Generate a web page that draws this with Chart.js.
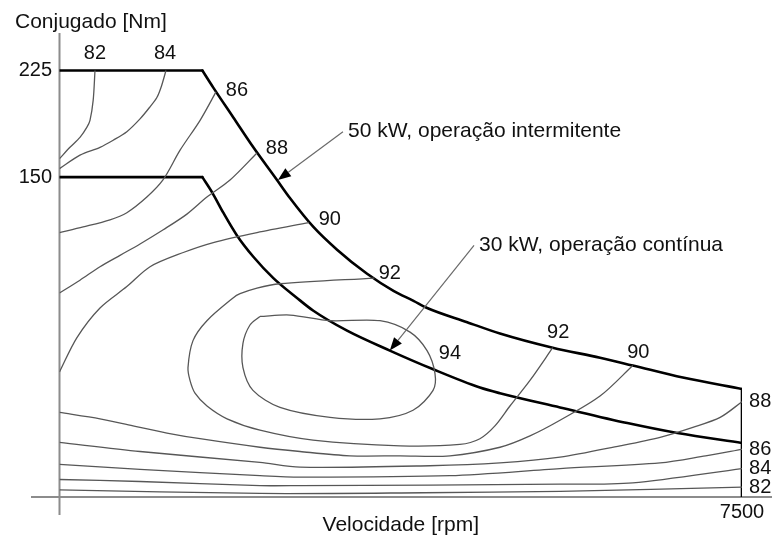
<!DOCTYPE html>
<html lang="pt-BR">
<head>
<meta charset="utf-8">
<title>Mapa de rendimento do motor</title>
<script src="https://cdn.jsdelivr.net/npm/chart.js@4.4.1/dist/chart.umd.min.js"></script>
<style>
  html, body { margin: 0; padding: 0; background: #fff; }
  #wrap { width: 774px; height: 538px; position: relative; }
</style>
</head>
<body>
<div id="wrap"><canvas id="mapa"></canvas></div>
<script>
// Envoltórias de conjugado máximo, pontos [rpm, Nm]
const envelope50kW = [[0, 225], [1570, 225], [1690, 213], [1910, 192], [2130, 171], [2390, 148], [2530, 135.5],
  [2790, 115], [3050, 99], [3380, 82], [3670, 70], [3890, 63], [4040, 58], [4480, 48], [4840, 40], [5420, 30],
  [5940, 23], [6300, 17.5], [6850, 9], [7500, 1], [7500, -75]];
const envelope30kW = [[0, 150], [1570, 150], [1680, 139], [1800, 125], [1950, 109], [2130, 94], [2350, 79],
  [2610, 65], [2790, 56], [3160, 42], [3630, 28], [4100, 15], [4620, 2], [4840, -2], [5500, -12], [6240, -23],
  [6790, -30], [7500, -37]];

// Curvas de rendimento constante (%), pontos [rpm, Nm]
const eff82Upper = [[390, 225], [370, 204], [335, 190], [300, 185], [225, 178], [115, 171], [0, 163]];
const eff84Upper = [[1170, 225], [1120, 214], [1070, 206], [995, 199.5], [885, 191], [740, 182], [590, 176],
  [445, 171], [225, 165.5], [0, 156]];
const eff86Upper = [[1720, 210], [1545, 190], [1325, 169], [1137, 148], [960, 136], [740, 125], [555, 120],
  [260, 115], [0, 111]];
const eff88Upper = [[2170, 167], [1874, 148], [1620, 136], [1400, 124], [1140, 113], [885, 103], [665, 95],
  [445, 87], [225, 77.5], [0, 68.5]];
const eff90Upper = [[2740, 118], [2170, 111], [1690, 104], [1360, 97], [995, 87], [740, 73], [445, 58],
  [190, 37], [0, 13]];
const eff92 = [[3460, 79], [2423, 75], [2170, 72], [1984, 68], [1907, 65], [1620, 49], [1467, 35], [1412, 16],
  [1434, 7], [1489, -2], [1621, -11], [1841, -20], [2203, -28], [2786, -35], [3742, -39], [4400, -38],
  [4620, -34], [4785, -25], [4950, -11], [5170, 7], [5420, 30]];
const eff94 = [[2203, 52], [2533, 53], [2973, 49], [3522, 49], [3852, 41], [4039, 28], [4126, 12], [4105, 0],
  [3885, -14], [3522, -20], [2973, -19], [2423, -12], [2126, 0], [2016, 16], [2016, 33], [2093, 46], [2203, 52]];
const eff90Lower = [[0, -15.5], [445, -20], [808, -25], [1181, -30], [1544, -34], [2203, -40], [2643, -43],
  [3192, -46], [3742, -46], [4291, -46], [4841, -40], [5170, -32], [5500, -21], [5940, -4], [6300, 17.5]];
const eff88Lower = [[0, -36.6], [885, -43], [2203, -50.7], [2643, -54], [4070, -53], [4841, -51], [5500, -47],
  [6160, -39], [6600, -33], [6960, -26], [7260, -19], [7500, -8]];
const eff86Lower = [[0, -52], [885, -55.6], [2203, -60], [2643, -61], [4291, -60], [5500, -55], [6600, -51],
  [7100, -46], [7500, -41.5]];
const eff84Lower = [[0, -62.7], [885, -64.1], [2203, -67], [2643, -67], [5500, -66], [6300, -65], [7500, -55]];
const eff82Lower = [[0, -70], [2203, -72.5], [4000, -72], [5500, -71], [7500, -68]];

// Rótulos das curvas: [texto, rpm, Nm]
const contourLabels = [['82', 390, 237], ['84', 1160, 237], ['86', 1950, 211], ['88', 2390, 170],
  ['90', 2970, 120], ['92', 3630, 82], ['94', 4290, 26], ['92', 5480, 41], ['90', 6360, 27],
  ['88', 7700, -8], ['86', 7700, -41.5], ['84', 7700, -55], ['82', 7700, -68]];

// Chamadas com seta: texto, posição do texto e ponta da seta [rpm, Nm]
const callouts = [
  { text: '50 kW, operação intermitente', at: [3170, 182], tip: [2400, 148] },
  { text: '30 kW, operação contínua', at: [4610, 102], tip: [3630, 28] }
];

const xTicks = [7500];
const yTicks = [150, 225];

const FONT = '"Liberation Sans", Arial, sans-serif';
const toPoints = arr => arr.map(([x, y]) => ({ x, y }));

const contourStyle = { borderColor: '#575757', borderWidth: 1.3, tension: 0.3, pointRadius: 0, fill: false };
const envelopeStyle = { borderColor: '#000', borderWidth: 2.6, pointRadius: 0, fill: false, borderCapStyle: 'round' };

const contours = [eff82Upper, eff84Upper, eff86Upper, eff88Upper, eff90Upper, eff92, eff94,
  eff90Lower, eff88Lower, eff86Lower, eff84Lower, eff82Lower];

const datasets = contours.map(c => Object.assign({ data: toPoints(c) }, contourStyle));

// Cada envoltória: trecho de conjugado constante (reto), trecho de potência
// constante (suavizado) e, na de 50 kW, o limite vertical em 7500 rpm
function addEnvelope(points, hasVerticalEnd) {
  const last = hasVerticalEnd ? points.length - 1 : points.length;
  datasets.push(Object.assign({ data: toPoints(points.slice(0, 2)), tension: 0 }, envelopeStyle));
  datasets.push(Object.assign({ data: toPoints(points.slice(1, last)), cubicInterpolationMode: 'monotone' }, envelopeStyle));
  if (hasVerticalEnd) {
    datasets.push(Object.assign({ data: toPoints(points.slice(-2)), tension: 0 }, envelopeStyle));
  }
}
addEnvelope(envelope30kW, false);
addEnvelope(envelope50kW, true);

// Eixos em cruz, estendidos além da área do gráfico
const crossAxes = {
  id: 'crossAxes',
  beforeDatasetsDraw(chart) {
    const { ctx, chartArea: a } = chart;
    ctx.save();
    ctx.strokeStyle = '#8c8c8c';
    ctx.lineWidth = 2;
    ctx.beginPath();
    ctx.moveTo(a.left - 28.5, a.bottom);
    ctx.lineTo(a.right + 30, a.bottom);
    ctx.moveTo(a.left, a.top - 2);
    ctx.lineTo(a.left, a.bottom + 18);
    ctx.stroke();
    ctx.restore();
  }
};

// Rótulos das curvas, chamadas e título do eixo vertical
const annotations = {
  id: 'annotations',
  afterDatasetsDraw(chart) {
    const { ctx, chartArea: a, scales: { x, y } } = chart;
    ctx.save();
    ctx.fillStyle = '#111';
    ctx.textBaseline = 'middle';
    ctx.textAlign = 'center';
    ctx.font = '20px ' + FONT;
    contourLabels.forEach(([t, r, n]) => ctx.fillText(t, x.getPixelForValue(r), y.getPixelForValue(n)));

    ctx.font = '21px ' + FONT;
    ctx.textAlign = 'left';
    callouts.forEach(c => {
      const tx = x.getPixelForValue(c.at[0]);
      const ty = y.getPixelForValue(c.at[1]);
      ctx.fillStyle = '#111';
      ctx.fillText(c.text, tx, ty);

      const sx = tx - 5, sy = ty;
      const ex = x.getPixelForValue(c.tip[0]);
      const ey = y.getPixelForValue(c.tip[1]);
      const ang = Math.atan2(ey - sy, ex - sx);
      const head = 13, half = 5;
      const bx = ex - head * Math.cos(ang);
      const by = ey - head * Math.sin(ang);
      ctx.strokeStyle = '#6a6a6a';
      ctx.lineWidth = 1.2;
      ctx.beginPath();
      ctx.moveTo(sx, sy);
      ctx.lineTo(bx, by);
      ctx.stroke();
      ctx.fillStyle = '#000';
      ctx.beginPath();
      ctx.moveTo(ex, ey);
      ctx.lineTo(bx + half * Math.sin(ang), by - half * Math.cos(ang));
      ctx.lineTo(bx - half * Math.sin(ang), by + half * Math.cos(ang));
      ctx.closePath();
      ctx.fill();
    });

    ctx.fillStyle = '#111';
    ctx.fillText('Conjugado [Nm]', a.left - 44.5, a.top - 13);
    ctx.restore();
  }
};

new Chart(document.getElementById('mapa'), {
  type: 'line',
  data: { datasets },
  options: {
    responsive: true,
    maintainAspectRatio: false,
    animation: false,
    layout: { padding: { top: 35, right: 32, bottom: 0, left: 0 } },
    plugins: { legend: { display: false }, tooltip: { enabled: false } },
    scales: {
      x: {
        type: 'linear',
        min: 0,
        max: 7500,
        afterBuildTicks: s => { s.ticks = xTicks.map(v => ({ value: v })); },
        afterFit: s => { s.height = 41; },
        grid: { display: false, drawTicks: false },
        border: { display: false },
        ticks: { padding: 3, color: '#111', autoSkip: false, maxRotation: 0, font: { family: FONT, size: 20 },
          callback: v => String(v) },
        title: { display: true, text: 'Velocidade [rpm]', color: '#111', padding: 0,
          font: { family: FONT, size: 21 } }
      },
      y: {
        type: 'linear',
        min: -75,
        max: 250,
        afterBuildTicks: s => { s.ticks = yTicks.map(v => ({ value: v })); },
        afterFit: s => { s.width = 59.5; },
        grid: { display: false, drawTicks: false },
        border: { display: false },
        ticks: { padding: 7.5, color: '#111', font: { family: FONT, size: 20 }, callback: v => String(v) }
      }
    }
  },
  plugins: [crossAxes, annotations]
});
</script>
</body>
</html>
